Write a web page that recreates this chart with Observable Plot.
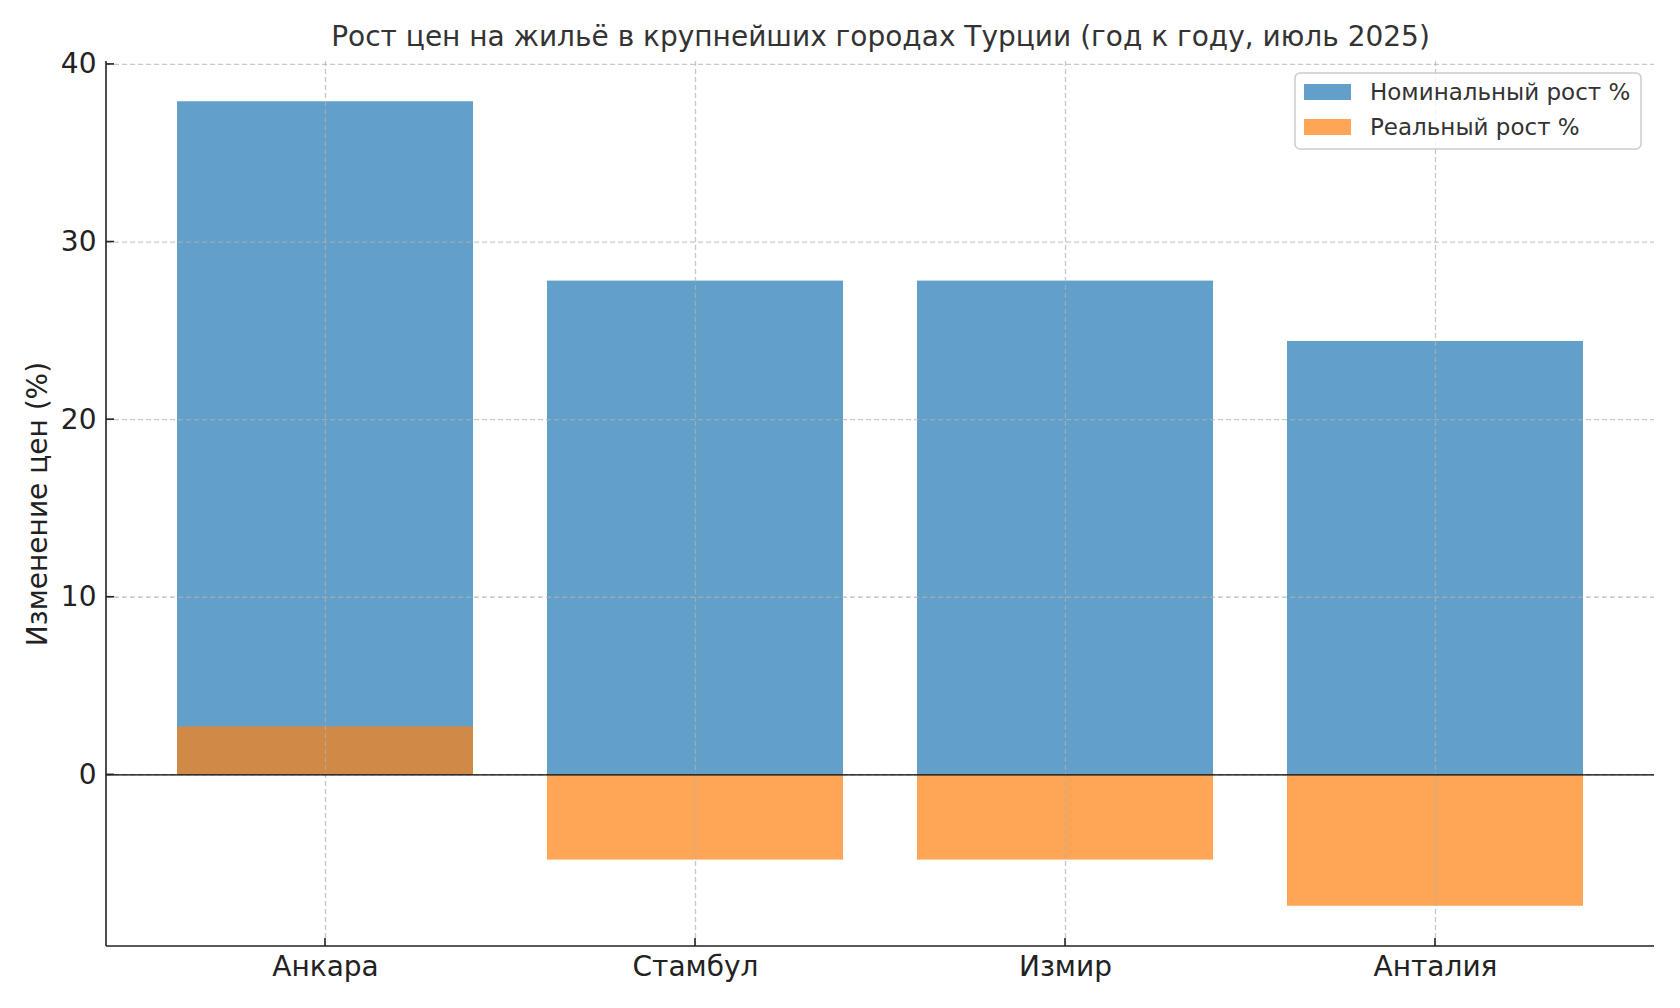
<!DOCTYPE html>
<html>
<head>
<meta charset="utf-8">
<script src="https://cdn.jsdelivr.net/npm/d3@7"></script>
<script src="https://cdn.jsdelivr.net/npm/@observablehq/plot@0.6"></script>
<style>
  html, body { margin: 0; padding: 0; background: #fff; }
  #chart svg { display: block; font-family: "DejaVu Sans", sans-serif; }
</style>
</head>
<body>
<div id="chart"></div>
<script>
const cities = ["Анкара", "Стамбул", "Измир", "Анталия"];
const nominal = [37.9, 27.8, 27.8, 24.4];
const real = [2.7, -4.8, -4.8, -7.4];
const yTicks = [0, 10, 20, 30, 40];
const seriesNames = ["Номинальный рост %", "Реальный рост %"];
const seriesColors = ["#1f77b4", "#ff7f0e"];
const titleText = "Рост цен на жильё в крупнейших городах Турции (год к году, июль 2025)";
const yLabel = "Изменение цен (%)";

const table = cities.map((c, i) => ({city: c, nominal: nominal[i], real: real[i]}));

const allVals = nominal.concat(real, [0]);
const lo = d3.min(allVals), hi = d3.max(allVals);
const pad = (hi - lo) * 0.05;

const W = 1680, H = 1008;
const mL = 106, mR = 26, mT = 61, mB = 62;

const plot = Plot.plot({
  width: W,
  height: H,
  marginLeft: mL,
  marginRight: mR,
  marginTop: mT,
  marginBottom: mB,
  style: {fontFamily: "DejaVu Sans, sans-serif", background: "#fff", overflow: "visible"},
  x: {domain: cities, paddingInner: 0.2, paddingOuter: 0.19, align: 0.5, axis: null},
  y: {domain: [lo - pad, hi + pad], axis: null},
  marks: [
    Plot.barY(table, {x: "city", y: "nominal", fill: seriesColors[0], fillOpacity: 0.7}),
    Plot.barY(table, {x: "city", y: "real", fill: seriesColors[1], fillOpacity: 0.7}),
    Plot.gridY(yTicks, {stroke: "#b0b0b0", strokeOpacity: 0.7, strokeWidth: 1.3, strokeDasharray: "5,3"}),
    Plot.gridX(cities, {stroke: "#b0b0b0", strokeOpacity: 0.7, strokeWidth: 1.3, strokeDasharray: "5,3"}),
    Plot.ruleY([0], {stroke: "#000", strokeWidth: 1.4}),
    Plot.axisY({ticks: yTicks, tickSize: 0, tickPadding: 10, fontSize: 28, color: "#222", label: null, tickFormat: d => String(d)}),
    Plot.axisX({tickSize: 0, tickPadding: 10, fontSize: 28, color: "#222", label: null}),
    Plot.text([titleText], {frameAnchor: "top", dy: -24, fontSize: 28, fill: "#333", textAnchor: "middle", lineAnchor: "middle"}),
    Plot.text([yLabel], {frameAnchor: "left", dx: -68, rotate: -90, fontSize: 28, fill: "#222", textAnchor: "middle", lineAnchor: "middle"})
  ]
});

document.getElementById("chart").appendChild(plot);

// Post-process: spines, inward ticks, legend
const svg = d3.select(plot);
const x = plot.scale("x"), y = plot.scale("y");
const bw = x.bandwidth;
const frameL = mL, frameR = W - mR, frameT = mT, frameB = H - mB;

const gAx = svg.append("g").attr("stroke", "#222").attr("stroke-width", 1.6);
gAx.append("line").attr("x1", frameL).attr("x2", frameL).attr("y1", frameT).attr("y2", frameB);
gAx.append("line").attr("x1", frameL).attr("x2", frameR).attr("y1", frameB).attr("y2", frameB);
yTicks.forEach(v => {
  const yy = y.apply(v);
  gAx.append("line").attr("x1", frameL).attr("x2", frameL + 8).attr("y1", yy).attr("y2", yy);
});
cities.forEach(c => {
  const xx = x.apply(c) + bw / 2;
  gAx.append("line").attr("x1", xx).attr("x2", xx).attr("y1", frameB).attr("y2", frameB - 8);
});

// Legend
const lg = svg.append("g").attr("font-family", "DejaVu Sans, sans-serif").attr("text-anchor", "start");
lg.append("rect").attr("x", 1295).attr("y", 73).attr("width", 346).attr("height", 76)
  .attr("rx", 5).attr("fill", "#fff").attr("fill-opacity", 0.8).attr("stroke", "#ccc").attr("stroke-width", 1.5);
seriesNames.forEach((name, i) => {
  const cy = 92 + i * 35;
  lg.append("rect").attr("x", 1304).attr("y", cy - 8).attr("width", 47).attr("height", 16)
    .attr("fill", seriesColors[i]).attr("fill-opacity", 0.7);
  lg.append("text").attr("x", 1370).attr("y", cy).attr("dy", "0.35em").attr("text-anchor", "start")
    .attr("font-size", 23).attr("fill", "#333").text(name);
});
</script>
</body>
</html>
